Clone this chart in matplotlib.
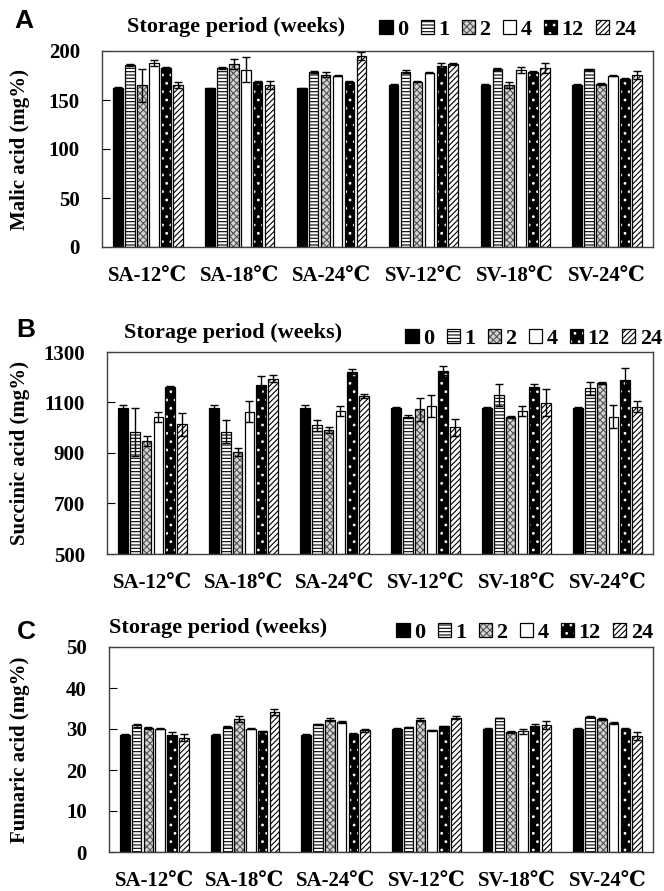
import numpy as np
import matplotlib
matplotlib.use("Agg")
import matplotlib.pyplot as plt
from matplotlib.patches import Patch
from matplotlib.legend_handler import HandlerTuple

plt.rcParams['font.family'] = ['Liberation Serif', 'DejaVu Serif']
plt.rcParams['font.weight'] = 'bold'
plt.rcParams['hatch.linewidth'] = 0.8

# categories (cultivar - storage temperature)
categories = ["SA-12℃", "SA-18℃", "SA-24℃", "SV-12℃", "SV-18℃", "SV-24℃"]
weeks = ["0", "1", "2", "4", "12", "24"]

# A: malic acid (mg%), one list per storage week
malic_w0 = [162, 162, 162, 165, 165, 165]
malic_w1 = [185.5, 183, 179, 179, 181.5, 181.5]
malic_w2 = [165, 186.5, 176, 168.5, 165, 166]
malic_w4 = [188, 181, 175, 178, 181, 175]
malic_w12 = [183, 168, 168.5, 185, 179, 171]
malic_w24 = [165, 165, 195, 187, 183, 175.5]
malic_err_w0 = [1, 0.5, 0.5, 1, 1, 1]
malic_err_w1 = [1, 1, 1, 1.5, 1, 0.5]
malic_err_w2 = [17, 5, 3, 0.5, 3, 1]
malic_err_w4 = [3, 13, 1, 0.5, 3, 0.5]
malic_err_w12 = [0.3, 1, 1, 3, 1, 1]
malic_err_w24 = [3, 4, 4, 1, 5, 4]

# B: succinic acid (mg%)
succ_w0 = [1080, 1080, 1080, 1077, 1077, 1077]
succ_w1 = [985, 985, 1009, 1044, 1130, 1156]
succ_w2 = [948, 903, 992, 1073, 1042, 1178]
succ_w4 = [1042, 1064, 1068, 1086, 1067, 1044]
succ_w12 = [1162, 1171, 1221, 1225, 1162, 1189]
succ_w24 = [1014, 1195, 1127, 1001, 1100, 1084]
succ_err_w0 = [12, 12, 12, 5, 5, 5]
succ_err_w1 = [95, 45, 20, 5, 45, 25]
succ_err_w2 = [20, 15, 12, 45, 3, 5]
succ_err_w4 = [20, 40, 20, 45, 20, 45]
succ_err_w12 = [5, 35, 10, 18, 10, 48]
succ_err_w24 = [45, 15, 8, 35, 55, 20]

# C: fumaric acid (mg%)
fum_w0 = [28.6, 28.6, 28.6, 30.0, 30.0, 30.0]
fum_w1 = [30.9, 30.5, 31.1, 30.4, 32.7, 33.0]
fum_w2 = [30.2, 32.4, 32.3, 32.3, 29.3, 32.4]
fum_w4 = [30.1, 30.1, 31.7, 29.7, 29.4, 31.5]
fum_w12 = [28.6, 29.4, 28.9, 30.7, 30.7, 30.1]
fum_w24 = [27.9, 34.1, 29.7, 32.8, 30.9, 28.2]
fum_err_w0 = [0.1, 0.1, 0.1, 0.2, 0.2, 0.2]
fum_err_w1 = [0.3, 0.2, 0.1, 0.1, 0.1, 0.1]
fum_err_w2 = [0.3, 0.7, 0.4, 0.3, 0.2, 0.2]
fum_err_w4 = [0.1, 0.2, 0.3, 0.1, 0.6, 0.2]
fum_err_w12 = [0.7, 0.1, 0.1, 0.1, 0.4, 0.1]
fum_err_w24 = [0.9, 0.8, 0.4, 0.3, 1.0, 1.0]

# fill colour, hatch colour, hatch for each week
styles = [
    ("black", "black", ""),
    ("white", "black", "-----"),
    ("#d4d4d4", "#555555", "xxxxx"),
    ("white", "black", ""),
    ("black", "white", ".."),
    ("white", "black", "//////"),
]

W, H = 664, 891
fig = plt.figure(figsize=(W / 100, H / 100), dpi=100)


def px_box(left, top, right, bottom):
    return [left / W, 1 - bottom / H, (right - left) / W, (bottom - top) / H]


panels = [
    dict(box=px_box(102, 51, 653, 247), letter="A", letter_xy=(24, 21),
         title_xy=(127, 27), leg_xy=(636, 30),
         series=[malic_w0, malic_w1, malic_w2, malic_w4, malic_w12, malic_w24],
         errs=[malic_err_w0, malic_err_w1, malic_err_w2, malic_err_w4, malic_err_w12, malic_err_w24],
         ylim=(0, 200), yticks=[0, 50, 100, 150, 200], ylabel="Malic acid (mg%)"),
    dict(box=px_box(107, 352, 653, 554), letter="B", letter_xy=(26, 330),
         title_xy=(124, 333), leg_xy=(662, 339),
         series=[succ_w0, succ_w1, succ_w2, succ_w4, succ_w12, succ_w24],
         errs=[succ_err_w0, succ_err_w1, succ_err_w2, succ_err_w4, succ_err_w12, succ_err_w24],
         ylim=(500, 1300), yticks=[500, 700, 900, 1100, 1300], ylabel="Succinic acid (mg%)"),
    dict(box=px_box(109, 647, 653, 852), letter="C", letter_xy=(26, 632),
         title_xy=(109, 628), leg_xy=(653, 633),
         series=[fum_w0, fum_w1, fum_w2, fum_w4, fum_w12, fum_w24],
         errs=[fum_err_w0, fum_err_w1, fum_err_w2, fum_err_w4, fum_err_w12, fum_err_w24],
         ylim=(0, 50), yticks=[0, 10, 20, 30, 40, 50], ylabel="Fumaric acid (mg%)"),
]

x = np.arange(len(categories))
step = 0.13
width = 0.105

for p in panels:
    ax = fig.add_axes(p["box"])
    base = p["ylim"][0]
    for k, (vals, err) in enumerate(zip(p["series"], p["errs"])):
        fc, hc, hatch = styles[k]
        pos = x + (k - 2.5) * step
        heights = [v - base for v in vals]
        # fill + hatch first, then a black outline on top
        ax.bar(pos, heights, width, bottom=base, color=fc, edgecolor=hc, hatch=hatch, linewidth=0)
        ax.bar(pos, heights, width, bottom=base, fill=False, edgecolor="black", linewidth=0.9)
        ax.errorbar(pos, vals, yerr=err, fmt="none", ecolor="black", elinewidth=1,
                    capsize=3, capthick=1)
    ax.set_xlim(-0.5, len(categories) - 0.5)
    ax.set_ylim(*p["ylim"])
    ax.set_yticks(p["yticks"])
    ax.set_xticks(x)
    ax.set_xticklabels(categories, fontsize=15, fontweight="bold")
    ax.tick_params(axis="x", length=0, pad=14)
    ax.tick_params(axis="y", direction="in", length=6, labelsize=15, pad=16)
    for lab in ax.get_yticklabels():
        lab.set_fontweight("bold")
    for s in ax.spines.values():
        s.set_color("#404040")
        s.set_linewidth(1)
    ax.set_ylabel(p["ylabel"], fontsize=15, fontweight="bold")
    ax.yaxis.set_label_coords((30 - p["box"][0] * W) / (p["box"][2] * W), 0.5)

    fig.text(p["letter_xy"][0] / W, 1 - p["letter_xy"][1] / H, p["letter"],
             family="Liberation Sans", fontsize=19, fontweight="bold",
             ha="center", va="center")
    fig.text(p["title_xy"][0] / W, 1 - p["title_xy"][1] / H, "Storage period (weeks)",
             fontsize=16, fontweight="bold", ha="left", va="center")

    handles = []
    for fc, hc, hatch in styles:
        handles.append((Patch(facecolor=fc, edgecolor=hc, hatch=hatch, linewidth=0),
                        Patch(fill=False, edgecolor="black", linewidth=0.9)))
    fig.legend(handles, weeks, loc="center right",
               bbox_to_anchor=(p["leg_xy"][0] / W, 1 - p["leg_xy"][1] / H),
               ncol=6, frameon=False, fontsize=16,
               handler_map={tuple: HandlerTuple(ndivide=1, pad=0)},
               handlelength=0.6, handleheight=0.6, handletextpad=0.2,
               columnspacing=0.55, borderpad=0, borderaxespad=0)

fig.savefig("out.png", dpi=100)
